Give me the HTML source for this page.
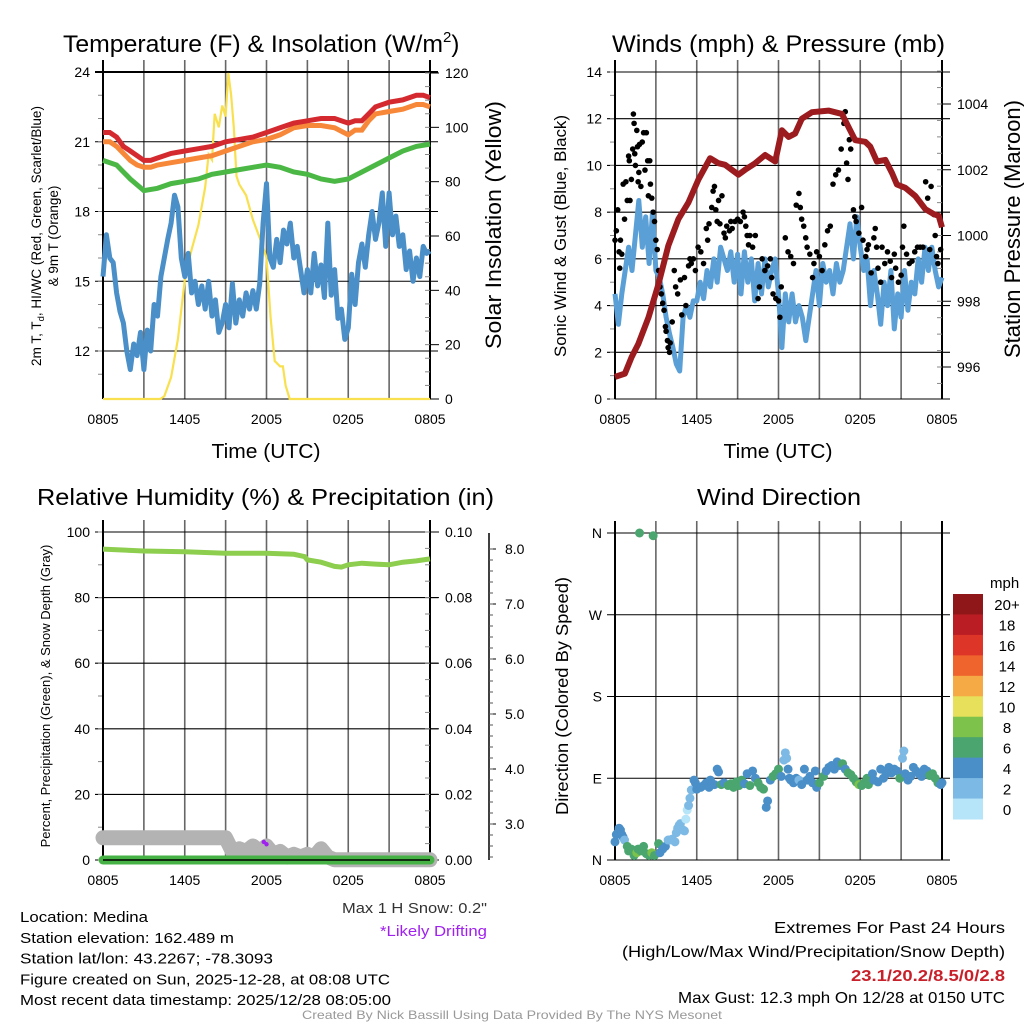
<!DOCTYPE html>
<html><head><meta charset="utf-8"><title>Medina Meteogram</title>
<style>
html,body{margin:0;padding:0;background:#fff;}
svg{display:block;font-family:"Liberation Sans",sans-serif;}
</style></head>
<body>
<svg id="chart" width="1024" height="1024" viewBox="0 0 1024 1024" xmlns="http://www.w3.org/2000/svg"></svg>
<script>
// ---------- DATA ----------
const timeTicks = ["0805","1405","2005","0205","0805"];
// Temperature panel (hours since 0805, degF)
const tHours = [0,0.5,1,1.5,2,2.5,3,3.5,4,5,6,7,8,9,10,11,12,13,14,15,16,17,18,18.5,19,19.5,20,21,22,23,23.5,24];
const tRed   = [21.4,21.4,21.2,20.8,20.6,20.4,20.2,20.2,20.3,20.5,20.6,20.7,20.8,21.0,21.1,21.2,21.4,21.6,21.8,21.9,22.0,22.0,21.8,21.9,21.9,22.2,22.5,22.7,22.8,23.0,23.0,22.9];
const tOrange= [21.0,21.0,20.8,20.5,20.2,20.0,19.9,19.9,20.0,20.1,20.2,20.3,20.4,20.6,20.8,21.0,21.1,21.3,21.6,21.7,21.7,21.6,21.3,21.5,21.5,21.9,22.2,22.3,22.4,22.6,22.6,22.5];
const gHours = [0,1,2,3,4,5,6,7,8,9,10,11,12,13,14,15,16,17,18,19,20,21,22,23,24];
const tGreen = [20.2,20.0,19.4,18.9,19.0,19.2,19.3,19.4,19.6,19.7,19.8,19.9,20.0,19.9,19.7,19.6,19.4,19.3,19.4,19.7,20.0,20.3,20.6,20.8,20.9];
const bHours = [0,0.25,0.5,0.75,1,1.25,1.5,1.75,2,2.25,2.5,2.75,3,3.25,3.5,3.75,4,4.25,4.5,4.75,5,5.25,5.5,5.75,6,6.25,6.5,6.75,7,7.25,7.5,7.75,8,8.25,8.5,8.75,9,9.25,9.5,9.75,10,10.25,10.5,10.75,11,11.25,11.5,11.75,12,12.25,12.5,12.75,13,13.25,13.5,13.75,14,14.25,14.5,14.75,15,15.25,15.5,15.75,16,16.25,16.5,16.75,17,17.25,17.5,17.75,18,18.25,18.5,18.75,19,19.25,19.5,19.75,20,20.25,20.5,20.75,21,21.25,21.5,21.75,22,22.25,22.5,22.75,23,23.25,23.5,23.75,24];
const tDew   = [15.2,17.0,16.0,15.8,14.5,13.7,13.2,12.0,11.2,12.3,11.8,12.8,11.2,12.9,12.0,14.0,13.5,15.2,16.0,16.8,17.5,18.7,18.2,16.0,15.2,16.2,14.5,15.0,14.0,14.8,13.8,15.0,13.5,14.2,12.8,13.2,14.0,13.0,14.9,13.2,14.2,13.5,14.5,13.8,14.6,13.8,14.9,17.5,19.2,16.0,15.6,16.8,15.8,17.2,16.6,17.5,16.0,16.5,15.5,14.5,15.5,14.5,16.2,14.8,15.7,14.3,17.5,14.4,15.5,13.4,13.8,12.5,13.0,15.3,14.0,15.8,16.6,15.6,17.0,18.0,16.8,17.5,18.8,16.5,18.8,17.0,17.8,16.5,17.0,15.5,16.3,15.0,16.0,15.2,16.5,16.2,16.3];
const sHours = [0,4.2,4.5,5,5.5,6,6.5,7,7.5,7.75,8,8.2,8.5,8.75,9,9.2,9.4,9.6,9.8,10,10.5,11,11.3,11.6,12,12.3,12.6,13,13.2,13.4,13.7,24];
const solar  = [0,0,1,8,22,44,55,64,78,90,88,105,100,108,104,120,112,100,82,79,75,66,62,58,52,30,14,12,12,5,0,0];
// Wind panel
const wHours = bHours;
const wSpeed = [4.5,3.2,4.5,5.5,6.5,5.5,7.0,8.5,6.5,7.8,5.8,8.0,5.5,5.2,4.5,3.5,2.8,2.2,1.5,1.2,3.5,4.0,3.5,4.2,4.2,5.0,4.3,5.5,4.8,6.0,5.0,6.5,6.0,5.5,6.3,5.0,6.2,4.5,6.3,5.0,6.0,4.2,5.8,4.5,6.0,4.8,5.5,6.0,4.5,2.2,4.5,3.3,4.5,3.3,4.0,3.5,2.5,3.5,4.5,5.5,4.0,5.8,5.0,5.5,4.5,5.8,5.0,5.5,6.5,7.5,6.0,7.8,6.5,5.5,6.0,4.0,5.5,4.5,3.2,5.0,4.0,5.5,3.0,4.5,3.5,5.5,3.8,5.0,4.5,6.0,5.0,6.5,5.5,6.5,5.5,4.8,5.2];
const gustHours = [0,0.1,0.2,0.3,0.35,0.4,0.5,0.6,0.7,0.8,0.9,1.0,1.05,1.1,1.2,1.3,1.35,1.4,1.45,1.5,1.6,1.65,1.7,1.75,1.8,1.9,2.0,2.1,2.2,2.3,2.4,2.45,2.55,2.6,2.7,2.8,2.9,3.0,3.1,3.2,3.3,3.4,3.5,3.6,3.7,3.75,3.85,3.9,4.0,4.05,4.2,4.35,4.45,4.6,4.8,4.9,5.1,5.2,5.4,5.5,5.6,5.75,5.9,6.1,6.3,6.5,6.7,6.8,6.9,7.1,7.2,7.3,7.4,7.5,7.6,7.7,7.85,8.0,8.1,8.2,8.4,8.5,8.6,8.8,9.0,9.2,9.4,9.5,9.6,9.7,9.8,9.9,10.1,10.3,10.5,10.6,10.8,11.0,11.2,11.4,11.5,11.6,11.8,12.0,12.1,12.2,12.5,12.7,12.9,13.1,13.3,13.5,13.6,13.7,13.85,14.0,14.1,14.3,14.5,14.6,14.8,15.0,15.2,15.4,15.6,15.8,16.0,16.2,16.4,16.6,16.8,16.9,17.0,17.1,17.2,17.3,17.5,17.6,17.7,17.9,18.1,18.2,18.4,18.5,18.6,18.8,19.0,19.1,19.2,19.3,19.5,19.6,19.8,20.0,20.2,20.3,20.5,20.6,20.8,21.0,21.1,21.2,21.4,21.6,21.8,22.0,22.2,22.4,22.6,22.8,22.95,23.1,23.2,23.4,23.5,23.6,23.7,23.9];
const gustSpeed = [6.8,7.2,8.1,6.3,5.6,6.8,6.2,9.2,7.7,9.3,8.5,10.4,10.2,8.5,9.4,10.7,12.2,11.8,10.5,10.0,11.5,10.8,9.3,9.7,10.9,9.1,11.0,11.4,9.8,11.4,10.2,8.7,10.2,9.2,8.6,8.0,7.6,6.8,6.4,5.5,4.8,4.5,4.1,3.8,3.1,2.9,2.5,2.2,2.0,2.4,3.3,5.5,4.8,4.5,5.1,3.6,5.2,4.0,5.7,6.0,5.8,6.0,5.5,6.5,6.3,5.8,7.3,6.8,7.5,8.2,8.9,9.1,8.1,7.6,8.5,7.5,8.7,7.1,6.9,7.4,7.2,7.6,7.3,7.6,7.7,7.6,8.0,7.8,7.4,7.0,6.6,7.0,6.5,7.0,4.3,4.8,6.0,5.5,5.7,6.0,5.2,4.5,4.3,4.2,3.5,4.8,6.9,6.3,6.1,5.8,8.3,8.8,8.2,7.7,7.4,6.9,6.5,6.2,5.2,5.8,6.3,6.1,5.5,6.6,7.2,7.4,9.2,9.6,9.8,10.7,11.8,12.3,10.1,9.4,11.1,10.7,8.1,7.8,7.6,7.1,8.2,6.8,6.1,6.4,6.6,5.4,6.9,7.3,6.5,5.6,5.0,6.5,5.8,6.3,5.9,5.2,6.2,5.6,5.0,5.3,6.5,7.4,6.2,5.8,5.9,6.3,6.5,6.5,6.5,9.3,8.6,6.4,9.1,7.9,7.0,6.1,5.8,6.4];
const pHours = [0,0.73,1.22,1.71,2.45,3.18,3.92,4.65,5.39,6.12,6.98,7.59,8.08,8.57,9.06,9.55,10.29,11.02,11.76,12.25,12.74,13.22,13.71,14.45,15.67,16.65,17.14,17.63,18.37,18.74,19.22,19.84,20.33,20.69,21.31,22.04,22.78,23.39,23.76,24];
const pressure = [995.7,995.8,996.3,996.7,997.5,998.5,999.7,1000.5,1001.0,1001.7,1002.35,1002.2,1002.15,1002.0,1001.85,1002.0,1002.2,1002.45,1002.25,1003.2,1003.0,1003.1,1003.55,1003.75,1003.8,1003.7,1003.3,1002.9,1002.85,1002.7,1002.25,1002.3,1001.9,1001.55,1001.45,1001.2,1000.8,1000.65,1000.6,1000.25];
// RH panel
const rhHours = [0,3,6,9,12,14,14.8,15,16,17,17.5,18,19,20,21,22,23,24];
const rh = [94.8,94.2,94.0,93.5,93.5,93.2,92.5,91.5,90.8,89.5,89.3,90.0,90.5,90.2,90.0,90.8,91.2,91.8];
const precipHours = [0,24];
const precip = [0,0];
const snowHours = [0,9,9.5,10,10.5,11,11.5,12,12.5,13,13.5,14,14.5,15,15.5,16,16.5,17,24];
const snowDepth = [2.75,2.75,2.5,2.55,2.5,2.6,2.5,2.6,2.45,2.5,2.4,2.45,2.4,2.45,2.4,2.55,2.4,2.35,2.35];
const driftHours = [11.8,12.0];
const driftPct = [5.5,4.8];
// Wind direction panel
const dirHours = [0,0.1,0.2,0.3,0.4,0.5,0.6,0.7,0.9,1.0,1.2,1.4,1.6,1.7,1.9,2.1,2.3,2.5,2.7,2.9,3.2,1.8,2.8,3.3,3.5,3.7,3.9,4.0,4.2,4.4,4.5,4.6,4.7,4.8,5.0,5.1,5.2,5.3,5.4,5.5,5.6,5.8,5.9,6.0,6.3,6.5,6.7,6.9,7.0,7.3,7.5,7.6,7.8,8.0,8.3,8.5,8.7,8.9,9.1,9.3,9.5,9.7,9.9,10.1,10.3,10.5,10.7,10.9,11.1,11.2,11.4,11.6,11.8,12.0,12.2,12.4,12.5,12.6,12.7,12.8,12.9,13.1,13.3,13.5,13.7,13.9,14.1,14.3,14.5,14.7,14.8,15.0,15.3,15.5,15.7,15.9,16.1,16.3,16.5,16.7,16.9,17.1,17.3,17.5,17.7,17.9,18.1,18.3,18.5,18.6,18.9,19.0,19.3,19.5,19.7,19.9,20.1,20.3,20.5,20.7,20.9,21.1,21.2,21.3,21.5,21.7,21.9,22.1,22.3,22.5,22.7,22.9,23.1,23.3,23.5,23.7,23.9,24.0];
const dirDeg = [20,28,30,35,33,28,25,22,15,10,12,5,8,12,10,15,7,5,8,5,18,360,357,8,12,15,22,22,23,20,30,35,38,40,33,32,45,55,60,68,77,88,85,78,80,82,85,80,88,83,100,97,83,85,82,84,80,86,82,88,84,95,82,98,90,85,80,78,58,65,88,92,95,100,92,110,118,112,100,90,88,85,90,88,83,100,88,92,85,98,80,85,92,98,102,104,100,108,104,106,100,96,94,90,86,83,82,85,90,83,95,88,86,100,90,95,102,96,100,98,90,112,120,95,88,92,102,98,95,92,100,98,93,95,90,85,83,85];
const dirSpeed = [4,4,4,4,4,4,4,3,6,7,6,6,8,7,7,7,6,6,8,6,6,6,6,4,4,4,3,3,3,3,3,3,3,3,3,3,1,1,3,3,3,4,4,4,4,4,4,4,4,4,4,4,6,4,6,6,6,6,6,6,4,4,6,4,4,6,6,6,4,4,4,6,6,6,4,2,2,2,4,4,4,4,4,2,4,4,4,4,4,4,4,6,6,4,4,4,4,4,4,6,4,6,6,6,6,8,6,6,6,6,4,4,4,4,4,4,4,4,4,4,6,2,2,4,4,4,4,4,4,4,4,4,6,6,6,6,4,4];
const speedBins = ["0","2","4","6","8","10","12","14","16","18","20+"];
const binColors = ["#b6e4f8","#7cb9e4","#4a8fc8","#4aa56f","#7dc24a","#e6e05a","#f5aa45","#ef642d","#de3529","#bb1d24","#8f1619"];

// ---------- HELPERS ----------
const svg = document.getElementById('chart');
const NS = "http://www.w3.org/2000/svg";
function mk(tag, attrs, parent){const e=document.createElementNS(NS,tag);for(const k in attrs)e.setAttribute(k,attrs[k]);(parent||svg).appendChild(e);return e;}
function txt(s, attrs, parent){const e=mk('text',attrs,parent);e.textContent=s;return e;}
function lin(a,b,c,d){return v=>c+(v-a)*(d-c)/(b-a);}
function pathD(xs,ys,fx,fy){return xs.map((h,i)=>(i?'L':'M')+fx(h).toFixed(1)+','+fy(ys[i]).toFixed(1)).join('');}

function frame(g, X0, X1, Y0, Y1, yTicks, yFn, labels, minor, hLines){
  for(let h=0;h<=24;h+=3){
    const x=X0+h*(X1-X0)/24;
    const v=mk('line',{x1:x,x2:x,y1:Y0-12,y2:Y1,stroke:'#666','stroke-width':1.6},g);
    
    
  }
  yTicks.forEach((t,i)=>{
    const y=yFn(t);
    if(hLines){const l=mk('line',{x1:X0-8,x2:X1+8,y1:y,y2:y,stroke:'#000','stroke-width':1.1},g);
    
    }
    const tl=txt(labels[i],{x:X0-13,y:y+5,'font-size':14,'text-anchor':'end'},g);
    
    
  });
  minor.forEach(t=>{const y=yFn(t);mk('line',{x1:X0-5,x2:X0,y1:y,y2:y,stroke:'#888','stroke-width':1},g);});
  const ax=mk('line',{x1:X0,x2:X0,y1:Y0-12,y2:Y1,stroke:'#000','stroke-width':2},g);
  
  
  mk('line',{x1:X1,x2:X1,y1:Y0-12,y2:Y1,stroke:'#000','stroke-width':2},g);
  timeTicks.forEach((t,i)=>{
    const x=X0+i*(X1-X0)/4;
    const tl=txt(t,{x:x,y:Y1+25,'font-size':14,'text-anchor':'middle'},g);
    
    
  });
}
function rtext(s,x,y,size,g,len){const a={x:0,y:0,'font-size':size,'text-anchor':'middle',transform:`translate(${x},${y}) rotate(-90)`};if(len){a.textLength=len;a.lengthAdjust='spacingAndGlyphs';}return txt(s,a,g);}

// ================= PANEL 1: Temperature =================
{
const g=mk('g',{});


const X0=103,X1=430;
const fx=lin(0,24,X0,X1), fy=lin(12,24,351,72), fs=lin(0,120,399,73);
const yt=[12,15,18,21,24];
const minor=[];for(let v=11;v<=24;v+=1)minor.push(v);
frame(g,X0,X1,72,399,yt,fy,yt.map(String),minor,true);
mk('line',{x1:X0-8,x2:X1+8,y1:72,y2:72,stroke:'#000','stroke-width':2},g);
mk('line',{x1:X0,x2:X1,y1:399,y2:399,stroke:'#000','stroke-width':1},g);
[0,20,40,60,80,100,120].forEach(v=>{const y=fs(v);mk('line',{x1:X1,x2:X1+9,y1:y,y2:y,stroke:'#000','stroke-width':1},g);
 const t=txt(String(v),{x:X1+15,y:y+5,'font-size':14},g);});
for(let v=0;v<=120;v+=5){const y=fs(v);mk('line',{x1:X1-5,x2:X1,y1:y,y2:y,stroke:'#888'},g);}
const sol=mk('path',{d:pathD(sHours,solar,fx,fs),fill:'none',stroke:'#f8e04e','stroke-width':2.2},g);


const dew=mk('path',{d:pathD(bHours,tDew,fx,fy),fill:'none',stroke:'#4a8fc8','stroke-width':5,'stroke-linejoin':'round'},g);


const gr=mk('path',{d:pathD(gHours,tGreen,fx,fy),fill:'none',stroke:'#4bb846','stroke-width':5},g);


const or=mk('path',{d:pathD(tHours,tOrange,fx,fy),fill:'none',stroke:'#f7883a','stroke-width':5},g);


const rd=mk('path',{d:pathD(tHours,tRed,fx,fy),fill:'none',stroke:'#d42a2f','stroke-width':5},g);


const ti=txt('',{x:63,y:52,'font-size':24},g);
ti.innerHTML='<tspan textLength="380" lengthAdjust="spacingAndGlyphs">Temperature (F) &amp; Insolation (W/m</tspan><tspan dy="-10" font-size="15">2</tspan><tspan dy="10">)</tspan>';


const xl=txt('Time (UTC)',{x:266,y:458,'font-size':20,'text-anchor':'middle',textLength:109,lengthAdjust:'spacingAndGlyphs'},g);


const yl=mk('text',{transform:'translate(41,236) rotate(-90)','font-size':13.5,'text-anchor':'middle'},g);
yl.innerHTML='2m T, T<tspan font-size="9.5" dy="3">d</tspan><tspan dy="-3">, HI/WC (Red, Green, Scarlet/Blue)</tspan>';


const yl2=rtext('& 9m T (Orange)',58,236,13.5,g);


const rl=rtext('Solar Insolation (Yellow)',501,225,22,g,248);


}

// ================= PANEL 2: Winds =================
{
const g=mk('g',{});


const X0=615,X1=942;
const fx=lin(0,24,X0,X1), fy=lin(0,14,399,72), fp=lin(996,1004,367,104);
const yt=[0,2,4,6,8,10,12,14];
const minor=[];for(let v=0;v<=14;v+=1)minor.push(v);
frame(g,X0,X1,72,399,yt,fy,yt.map(String),minor,true);
[996,998,1000,1002,1004].forEach(v=>{const y=fp(v);mk('line',{x1:X1,x2:X1+9,y1:y,y2:y,stroke:'#000'},g);
 const t=txt(String(v),{x:X1+15,y:y+5,'font-size':14},g);});
for(let v=995.5;v<=1005;v+=0.5){const y=fp(v);mk('line',{x1:X1-5,x2:X1,y1:y,y2:y,stroke:'#888'},g);}
const ws=mk('path',{d:pathD(wHours,wSpeed,fx,fy),fill:'none',stroke:'#5a9fd6','stroke-width':5,'stroke-linejoin':'round'},g);


gustHours.forEach((h,i)=>{
  const c=mk('circle',{cx:fx(h),cy:fy(gustSpeed[i]),r:2.8,fill:'#000'},g);
  
  
});
const pr=mk('path',{d:pathD(pHours,pressure,fx,fp),fill:'none',stroke:'#9b1b1e','stroke-width':6,'stroke-linejoin':'round'},g);


const ti=txt('Winds (mph) & Pressure (mb)',{x:612,y:52,'font-size':24,textLength:333,lengthAdjust:'spacingAndGlyphs'},g);


const xl=txt('Time (UTC)',{x:778,y:458,'font-size':20,'text-anchor':'middle',textLength:109,lengthAdjust:'spacingAndGlyphs'},g);


const yl=rtext('Sonic Wind & Gust (Blue, Black)',566,236,17,g,242);


const rl=rtext('Station Pressure (Maroon)',1020,229,22,g,258);


}

// ================= PANEL 3: RH =================
{
const g=mk('g',{});


const X0=103,X1=430;
const fx=lin(0,24,X0,X1), fy=lin(0,100,860,532), fq=lin(0,0.1,860,532), fsn=lin(3,8,824,549);
const yt=[0,20,40,60,80,100];
const minor=[];for(let v=0;v<=100;v+=10)minor.push(v);
frame(g,X0,X1,532,860,yt,fy,yt.map(String),minor,true);
['0.00','0.02','0.04','0.06','0.08','0.10'].forEach((s,i)=>{const y=fq(i*0.02);mk('line',{x1:X1,x2:X1+9,y1:y,y2:y,stroke:'#000'},g);
 const t=txt(s,{x:X1+15,y:y+5,'font-size':14},g);});
for(let v=0;v<=100;v+=5){const y=fy(v);mk('line',{x1:X1-5,x2:X1,y1:y,y2:y,stroke:'#888'},g);}
mk('line',{x1:489,x2:489,y1:533,y2:860,stroke:'#000','stroke-width':1.5},g);
['3.0','4.0','5.0','6.0','7.0','8.0'].forEach((s,i)=>{const y=fsn(3+i);mk('line',{x1:489,x2:496,y1:y,y2:y,stroke:'#000'},g);
 const t=txt(s,{x:505,y:y+5,'font-size':14},g);});
for(let v=2.4;v<=8.2;v+=0.2){const y=fsn(v);mk('line',{x1:489,x2:493,y1:y,y2:y,stroke:'#555'},g);}
const sn=mk('path',{d:pathD(snowHours,snowDepth,fx,fsn),fill:'none',stroke:'#b3b3b3','stroke-width':15,'stroke-linecap':'round','stroke-linejoin':'round'},g);


const pc=mk('path',{d:pathD(precipHours,precip,fx,fq),fill:'none',stroke:'#46b144','stroke-width':9,'stroke-linecap':'round'},g);


mk('line',{x1:X0,x2:X1,y1:860,y2:860,stroke:'#000','stroke-width':1.5},g);
const r=mk('path',{d:pathD(rhHours,rh,fx,fy),fill:'none',stroke:'#8dce4f','stroke-width':5},g);


driftHours.forEach((h,i)=>{const c=mk('circle',{cx:fx(h),cy:fy(driftPct[i]),r:2.2,fill:'#a020f0'},g);
 
 });
const ti=txt('Relative Humidity (%) & Precipitation (in)',{x:37,y:505,'font-size':23,textLength:457,lengthAdjust:'spacingAndGlyphs'},g);


const yl=rtext('Percent, Precipitation (Green), & Snow Depth (Gray)',50,696,13,g);


const m1=txt('Max 1 H Snow: 0.2"',{x:487,y:913,'font-size':15,'text-anchor':'end',fill:'#333',textLength:145,lengthAdjust:'spacingAndGlyphs'},g);


const m2=txt('*Likely Drifting',{x:487,y:936,'font-size':15,'text-anchor':'end',fill:'#a020f0',textLength:107,lengthAdjust:'spacingAndGlyphs'},g);


}

// ================= PANEL 4: Wind direction =================
{
const g=mk('g',{});


const X0=615,X1=942;
const fx=lin(0,24,X0,X1), fy=lin(0,360,860,533);
frame(g,X0,X1,533,860,[0,90,180,270,360],fy,['N','E','S','W','N'],[],true);
dirHours.forEach((h,i)=>{
  const b=Math.min(10,Math.floor(dirSpeed[i]/2));
  const c=mk('circle',{cx:fx(h),cy:fy(dirDeg[i]),r:4.5,fill:binColors[b]},g);
  
  
});
const ti=txt('Wind Direction',{x:697,y:505,'font-size':23,textLength:164,lengthAdjust:'spacingAndGlyphs'},g);


const yl=rtext('Direction (Colored By Speed)',568,696,17.5,g,238);


const lg=mk('g',{},g);


const t=txt('mph',{x:990,y:588,'font-size':15},lg);


const bh=(819-594)/11;
speedBins.forEach((s,i)=>{
  const k=10-i; const y=594+i*bh;
  const r=mk('rect',{x:953,y:y,width:30,height:bh+0.5,fill:binColors[k]},lg);
  
  
  const l=txt(speedBins[k],{x:1007,y:y+bh/2+6,'font-size':15,'text-anchor':'middle'},lg);
  
  
});
}

// ================= FOOTER TEXT =================
const leftLines=[["Location: Medina",128],["Station elevation: 162.489 m",214],["Station lat/lon: 43.2267; -78.3093",253],["Figure created on Sun, 2025-12-28, at 08:08 UTC",370],["Most recent data timestamp: 2025/12/28 08:05:00",371]];
leftLines.forEach((l,i)=>{
  const e=txt(l[0],{x:20,y:922+i*20.8,'font-size':15,textLength:l[1],lengthAdjust:'spacingAndGlyphs'});
  
  
});
const rightLines=[["Extremes For Past 24 Hours",231,'#000','normal',933],["(High/Low/Max Wind/Precipitation/Snow Depth)",383,'#000','normal',957],["23.1/20.2/8.5/0/2.8",154,'#c8202a','bold',981],["Max Gust: 12.3 mph On 12/28 at 0150 UTC",327,'#000','normal',1003]];
rightLines.forEach(l=>{
  const e=txt(l[0],{x:1005,y:l[4],'font-size':16,'text-anchor':'end',fill:l[2],'font-weight':l[3],textLength:l[1],lengthAdjust:'spacingAndGlyphs'});
  
  
});
const cr=txt('Created By Nick Bassill Using Data Provided By The NYS Mesonet',{x:512,y:1019,'font-size':12,'text-anchor':'middle',fill:'#999',textLength:420,lengthAdjust:'spacingAndGlyphs'});


</script>
</body></html>
